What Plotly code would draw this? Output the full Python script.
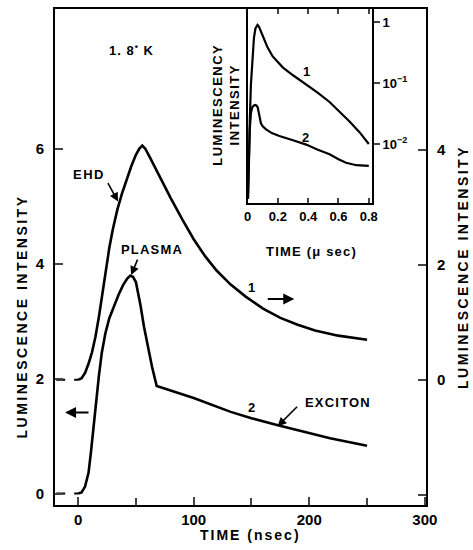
import plotly.graph_objects as go

# ---- main panel data (time in nsec) ----
# curve 1 (EHD) read on the right-hand axis
ehd_t = [0, 3, 6, 9, 12, 15, 18, 21, 24, 27, 30, 34, 38, 42, 46, 50, 53, 55.5,
         58, 62, 66, 70, 80, 90, 100, 110, 120, 132, 145, 160, 175, 190, 205, 225, 250]
ehd_y = [0.0, 0.03, 0.12, 0.28, 0.48, 0.75, 1.1, 1.52, 1.92, 2.3, 2.62, 2.97, 3.25, 3.5, 3.72, 3.92, 4.03, 4.08,
         4.03, 3.88, 3.72, 3.56, 3.17, 2.80, 2.45, 2.15, 1.90, 1.66, 1.45, 1.24, 1.08, 0.96, 0.86, 0.77, 0.70]

# curve 2 (PLASMA / EXCITON) read on the left-hand axis
exc_t = [0, 3, 6, 9, 11, 13, 15.5, 18, 20.5, 23.5, 27, 31, 35, 39, 42.5, 45, 47.5,
         50, 52, 54, 57, 60, 64, 68, 100, 132, 150, 172, 195, 218, 250]
exc_y = [0.0, 0.02, 0.12, 0.36, 0.7, 1.1, 1.6, 2.05, 2.45, 2.78, 3.05, 3.27, 3.46, 3.63, 3.74, 3.79, 3.77,
         3.68, 3.5, 3.27, 2.9, 2.57, 2.2, 1.87, 1.66, 1.42, 1.31, 1.19, 1.07, 0.96, 0.83]

base_t = [-19, 0]
base_y = [0, 0]

x_ticks = [0, 100, 200, 300]
x_minor = [50, 150, 250]
left_ticks = [0, 2, 4, 6]
right_ticks = [-2, 0, 2, 4]
right_labels = ["", "0", "2", "4"]

# ---- inset data (time in microseconds, log intensity) ----
in1_t = [0.003, 0.007, 0.015, 0.022, 0.032, 0.042, 0.052, 0.06, 0.066, 0.075, 0.085, 0.099, 0.13, 0.166,
         0.2, 0.232, 0.3, 0.387, 0.46, 0.541, 0.61, 0.673, 0.74, 0.80]
in1_y = [0.00126, 0.00525, 0.0251, 0.0933, 0.282, 0.55, 0.794, 0.891, 0.906, 0.851, 0.741, 0.617, 0.398, 0.275,
         0.219, 0.182, 0.135, 0.0955, 0.0708, 0.049, 0.0339, 0.0234, 0.0155, 0.010]

in2_t = [0.003, 0.007, 0.015, 0.022, 0.03, 0.04, 0.05, 0.06, 0.067, 0.073, 0.08, 0.088, 0.1, 0.122,
         0.16, 0.21, 0.3, 0.387, 0.46, 0.541, 0.6, 0.65, 0.718, 0.80]
in2_y = [0.00126, 0.00525, 0.0178, 0.0316, 0.0398, 0.0427, 0.0437, 0.0427, 0.0398, 0.0339, 0.0263, 0.0219,
         0.0195, 0.0174, 0.0151, 0.0135, 0.0115, 0.00977, 0.00813, 0.00676, 0.00562, 0.0049, 0.00447, 0.00437]

in_x_ticks = [0, 0.2, 0.4, 0.6, 0.8]
in_x_labels = ["0", "0.2", "0.4", "0.6", "0.8"]
in_y_ticks = [1, 0.1, 0.01]
in_y_labels = ["1", "10<sup>\u22121</sup>", "10<sup>\u22122</sup>"]

FONT = "Liberation Sans"


def spaced(s, px=1.5):
    return '<span style="letter-spacing:%spx">%s</span>' % (px, s)


fig = go.Figure()
dash = dict(color="black", width=2, dash="dash")
fig.add_trace(go.Scatter(x=base_t, y=base_y, mode="lines", line=dash, xaxis="x", yaxis="y2"))
fig.add_trace(go.Scatter(x=base_t, y=base_y, mode="lines", line=dash, xaxis="x", yaxis="y"))
fig.add_trace(go.Scatter(x=ehd_t, y=ehd_y, mode="lines", line=dict(color="black", width=2.6),
                         xaxis="x", yaxis="y2"))
fig.add_trace(go.Scatter(x=exc_t, y=exc_y, mode="lines", line=dict(color="black", width=2.6),
                         xaxis="x", yaxis="y"))
fig.add_trace(go.Scatter(x=in1_t, y=in1_y, mode="lines", line=dict(color="black", width=2.2),
                         xaxis="x2", yaxis="y3"))
fig.add_trace(go.Scatter(x=in2_t, y=in2_y, mode="lines", line=dict(color="black", width=2.2),
                         xaxis="x2", yaxis="y3"))

tickfont = dict(family=FONT, size=15, color="black", weight="bold")
small = dict(family=FONT, size=13, color="black", weight="bold")
fig.update_layout(
    width=473, height=550,
    margin=dict(l=55, r=47, t=7, b=45),
    paper_bgcolor="white", plot_bgcolor="white",
    showlegend=False,
    hovermode=False,
    font=dict(family=FONT, color="black"),
    xaxis=dict(range=[-20, 301], tickvals=x_ticks, ticks="inside", ticklen=8, tickwidth=2,
               showline=True, linewidth=2, linecolor="black", mirror=True, showgrid=False, zeroline=False,
               tickfont=tickfont,
               minor=dict(tickvals=x_minor, ticks="inside", ticklen=7, tickwidth=2, showgrid=False)),
    yaxis=dict(range=[-0.2, 8.43], tickvals=left_ticks, ticks="inside", ticklen=8, tickwidth=2,
               showline=True, linewidth=2, linecolor="black", showgrid=False, zeroline=False,
               tickfont=tickfont, ticklabelstandoff=6),
    yaxis2=dict(range=[-2.18, 6.46], tickvals=right_ticks, ticktext=right_labels, overlaying="y", side="right",
                ticks="inside", ticklen=8, tickwidth=2, showline=True, linewidth=2, linecolor="black",
                showgrid=False, zeroline=False, tickfont=tickfont, ticklabelstandoff=6),
    xaxis2=dict(domain=[0.519, 0.854], anchor="y3", range=[0, 0.82], tickvals=in_x_ticks, ticktext=in_x_labels,
                ticks="inside", ticklen=5, tickwidth=1.5, showline=True, linewidth=2, linecolor="black",
                mirror="allticks", showgrid=False, zeroline=False, tickfont=small),
    yaxis3=dict(domain=[0.609, 1.0], anchor="x2", type="log", range=[-2.97, 0.22], side="right",
                tickvals=in_y_ticks, ticktext=in_y_labels, ticks="outside", ticklen=6, tickwidth=1.5,
                showline=True, linewidth=2, linecolor="black", mirror=True, showgrid=False, zeroline=False,
                tickfont=small),
)

txt = dict(family=FONT, size=13, color="black", weight="bold")
ctr = dict(xanchor="center", yanchor="middle", showarrow=False)
ann = []
ann.append(dict(ctr, x=45.9, y=7.72, xref="x", yref="y", text=spaced("1. 8<sup>\u2022</sup> K", 1), font=txt))
ann.append(dict(ctr, x=9.1, y=5.55, xref="x", yref="y", text=spaced("EHD", 1.5), font=txt))
ann.append(dict(ctr, x=63.6, y=4.25, xref="x", yref="y", text=spaced("PLASMA", 1.2), font=txt))
ann.append(dict(ctr, x=224.7, y=1.59, xref="x", yref="y", text=spaced("EXCITON", 1.2), font=txt))
ann.append(dict(ctr, x=150.4, y=3.59, xref="x", yref="y", text="1", font=txt))
ann.append(dict(ctr, x=150.4, y=1.50, xref="x", yref="y", text="2", font=txt))
arr = dict(showarrow=True, arrowhead=2, arrowsize=1.1, arrowwidth=1.6, arrowcolor="black", text="")
ann.append(dict(arr, x=34.6, y=5.08, xref="x", yref="y", ax=-11, ay=-20))
ann.append(dict(arr, x=45.9, y=3.80, xref="x", yref="y", ax=7, ay=-17))
ann.append(dict(arr, x=172.6, y=1.17, xref="x", yref="y", ax=21, ay=-21))
ann.append(dict(arr, x=187, y=3.385, xref="x", yref="y", ax=-28, ay=0, arrowwidth=2))
ann.append(dict(arr, x=-11.3, y=1.41, xref="x", yref="y", ax=25, ay=0, arrowwidth=2))
ann.append(dict(ctr, x=0.387, y=-0.81, xref="x2", yref="y3", text="1", font=txt))
ann.append(dict(ctr, x=0.382, y=-1.89, xref="x2", yref="y3", text="2", font=txt))
ann.append(dict(ctr, x=0.528, y=-0.060, xref="paper", yref="paper", text=spaced("TIME (nsec)", 2),
                font=dict(txt, size=14)))
ann.append(dict(ctr, x=-0.089, y=0.380, xref="paper", yref="paper", text=spaced("LUMINESCENCE INTENSITY", 2.5),
                textangle=-90, font=dict(txt, size=14)))
ann.append(dict(ctr, x=1.10, y=0.48, xref="paper", yref="paper", text=spaced("LUMINESCENCE INTENSITY", 2.5),
                textangle=-90, font=dict(txt, size=14)))
ann.append(dict(ctr, x=0.461, y=0.807, xref="paper", yref="paper",
                text=spaced("LUMINESCENCY", 1.5) + "<br>" + spaced("INTENSITY", 1.5),
                textangle=-90, font=dict(txt, size=13)))
ann.append(dict(ctr, x=0.692, y=0.512, xref="paper", yref="paper", text=spaced("TIME (\u03bc sec)", 1.2),
                font=dict(txt, size=13)))
fig.update_layout(annotations=ann)

fig.write_html("out.html", config={"displayModeBar": False},
               post_script="document.body.style.margin='0px';")
